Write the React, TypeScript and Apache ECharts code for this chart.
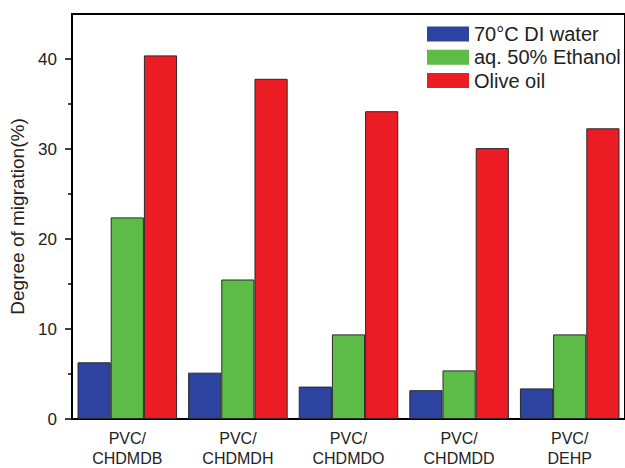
import React, { useEffect, useRef } from "react";
import * as echarts from "echarts";

const categories = ["PVC/\nCHDMDB", "PVC/\nCHDMDH", "PVC/\nCHDMDO", "PVC/\nCHDMDD", "PVC/\nDEHP"];
const seriesNames = ["70°C DI water", "aq. 50% Ethanol", "Olive oil"];
const diWater = [6.3, 5.15, 3.6, 3.2, 3.4];
const ethanol = [22.4, 15.5, 9.4, 5.4, 9.4];
const oliveOil = [40.4, 37.8, 34.2, 30.1, 32.3];
const yMajorTicks = [0, 10, 20, 30, 40];
const yMinorTicks = [5, 15, 25, 35];
const yMax = 45;
const colors = ["#2c43a0", "#5dbb47", "#ec1c24"];

const FONT = "Liberation Sans, Arial, sans-serif";
const TEXT = "#222";

export default function App() {
  const ref = useRef<HTMLDivElement>(null);
  useEffect(() => {
    if (!ref.current) return;
    const chart = echarts.init(ref.current, null, { renderer: "svg" });
    const values = [diWater, ethanol, oliveOil];
    chart.setOption({
      animation: false,
      backgroundColor: "#fff",
      textStyle: { fontFamily: FONT },
      legend: {
        orient: "vertical",
        left: 422,
        top: 19,
        icon: "rect",
        itemWidth: 42,
        itemHeight: 15,
        itemGap: 3.3,
        selectedMode: false,
        data: seriesNames,
        textStyle: { fontSize: 20, lineHeight: 20, color: TEXT, fontFamily: FONT },
        itemStyle: { borderWidth: 0 },
      },
      grid: {
        left: 72,
        right: -6,
        top: 14,
        bottom: 45,
        show: true,
        borderColor: "#000",
        borderWidth: 2,
        backgroundColor: "transparent",
      },
      xAxis: {
        type: "category",
        data: categories,
        axisLine: { lineStyle: { color: "#000", width: 2 } },
        axisTick: { alignWithLabel: true, length: 8, lineStyle: { color: "#000", width: 1.5 } },
        axisLabel: { fontSize: 16, lineHeight: 20, color: TEXT, margin: 9, fontFamily: FONT },
      },
      yAxis: [
        {
          type: "value",
          min: 0,
          max: yMax,
          name: "Degree of migration(%)",
          nameLocation: "middle",
          nameGap: 37,
          nameTextStyle: { fontSize: 19, color: TEXT, fontFamily: FONT },
          axisLine: { show: true, lineStyle: { color: "#000", width: 2 } },
          axisTick: { show: true, length: 7, customValues: yMajorTicks, lineStyle: { color: "#000", width: 1.5 } },
          axisLabel: { customValues: yMajorTicks, fontSize: 17, color: TEXT, margin: 15, fontFamily: FONT },
          splitLine: { show: false },
        },
        {
          type: "value",
          position: "left",
          min: 0,
          max: yMax,
          axisLine: { show: false },
          axisTick: { show: true, length: 4, customValues: yMinorTicks, lineStyle: { color: "#000", width: 1.5 } },
          axisLabel: { show: false },
          splitLine: { show: false },
        },
      ],
      series: seriesNames.map((name, i) => ({
        name,
        type: "bar",
        data: values[i],
        barGap: "0%",
        barCategoryGap: "10%",
        itemStyle: { color: colors[i], borderColor: "#2a2a2a", borderWidth: 1 },
      })),
    });
    return () => chart.dispose();
  }, []);
  return (
    <div
      ref={ref}
      style={{ position: "absolute", left: 0, top: 0, width: 625, height: 468 }}
    />
  );
}
